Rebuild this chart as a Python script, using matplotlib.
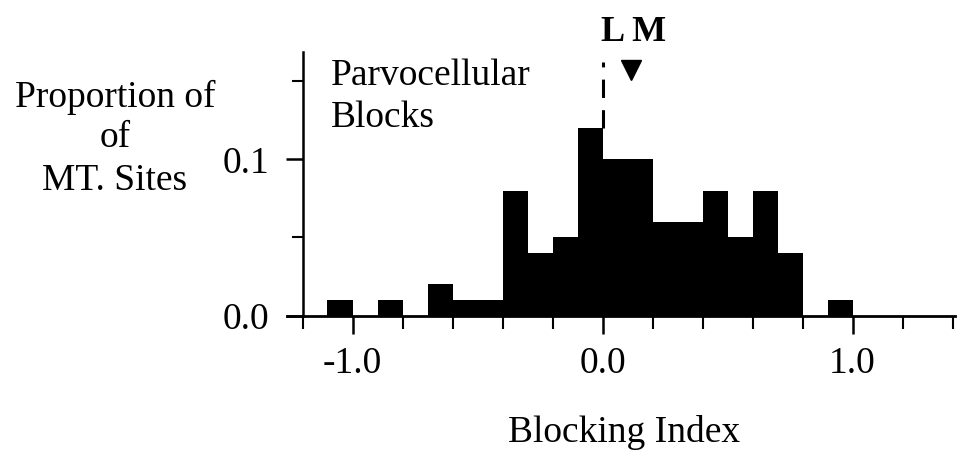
import matplotlib
matplotlib.use("Agg")
import matplotlib.pyplot as plt
import numpy as np

# ---- data ----
bin_left = [-1.1, -1.0, -0.9, -0.8, -0.7, -0.6, -0.5, -0.4, -0.3, -0.2,
            -0.1, 0.0, 0.1, 0.2, 0.3, 0.4, 0.5, 0.6, 0.7, 0.8, 0.9]
proportion = [0.01, 0.0, 0.01, 0.0, 0.02, 0.01, 0.01, 0.08, 0.04, 0.05,
              0.12, 0.10, 0.10, 0.06, 0.06, 0.08, 0.05, 0.08, 0.04, 0.0, 0.01]
bin_width = 0.1
x_major = [-1.0, 0.0, 1.0]
x_major_labels = ["-1.0", "0.0", "1.0"]
x_minor = [-1.2, -0.8, -0.6, -0.4, -0.2, 0.2, 0.4, 0.6, 0.8, 1.2, 1.4]
y_major = [0.0, 0.1]
y_major_labels = ["0.0", "0.1"]
y_minor = [0.05, 0.15]
L_index = 0.0      # dashed marker (L)
M_index = 0.115    # triangle marker (M)
ylabel_lines = ["Proportion of", "of", "MT. Sites"]

plt.rcParams['font.family'] = ['Liberation Serif', 'DejaVu Serif']
FS = 27

W, H = 958, 454
fig = plt.figure(figsize=(W / 100, H / 100), dpi=100)
ax = fig.add_axes([287.5 / W, 1 - 315.5 / H, 667.5 / W, (315.5 - 52) / H])

edges = list(bin_left) + [bin_left[-1] + bin_width]
ax.stairs(proportion, edges, fill=True, color='black', linewidth=0)

ax.set_xlim(-1.26, 1.41)
ax.set_ylim(0, 0.1687)

for s in ['top', 'right']:
    ax.spines[s].set_visible(False)
ax.spines['left'].set_position(('data', -1.2))
ax.spines['left'].set_linewidth(1.8)
ax.spines['bottom'].set_linewidth(2.0)

ax.set_xticks(x_major)
ax.set_xticklabels(x_major_labels)
ax.set_xticks(x_minor, minor=True)
ax.set_yticks(y_major)
ax.set_yticklabels(y_major_labels)
ax.set_yticks(y_minor, minor=True)
ax.tick_params(axis='x', which='major', direction='out', length=13, width=1.8,
               labelsize=FS, pad=9)
ax.tick_params(axis='x', which='minor', direction='out', length=9.5, width=1.5)
ax.tick_params(axis='y', which='major', direction='out', length=12, width=1.8,
               labelsize=FS, pad=12)
ax.tick_params(axis='y', which='minor', direction='out', length=8, width=1.5)

# L dashed line from top of bar at 0 up
ax.plot([L_index, L_index], [0.12, 0.162], color='black', lw=2.2,
        linestyle=(0, (6, 4)), clip_on=False)
# M triangle
ax.plot([M_index], [0.157], marker='v', color='black', markersize=15,
        clip_on=False)
ax.text(-0.005, 0.176, "L M", fontsize=26, fontweight='bold', ha='left',
        va='baseline')

ax.text(-1.085, 0.1476, "Parvocellular", fontsize=FS, ha='left', va='baseline')
ax.text(-1.085, 0.1208, "Blocks", fontsize=FS, ha='left', va='baseline')

for line, base_px in zip(ylabel_lines, [107, 147, 190]):
    fig.text(115 / W, 1 - base_px / H, line, fontsize=FS,
             ha='center', va='baseline')
fig.text(508 / W, 1 - 441.7 / H, "Blocking Index", fontsize=FS, ha='left',
         va='baseline')

fig.savefig("out.png", dpi=100)
